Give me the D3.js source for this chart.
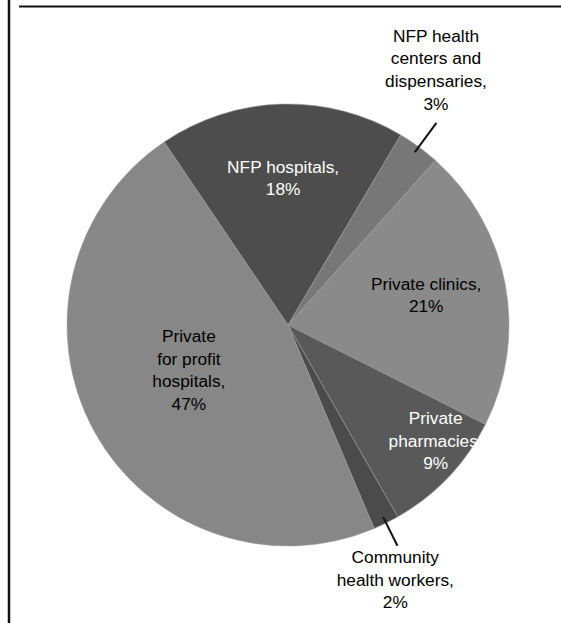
<!DOCTYPE html>
<html>
<head>
<meta charset="utf-8">
<script src="https://cdn.jsdelivr.net/npm/d3@7"></script>
<style>
  html, body { margin: 0; padding: 0; background: #fff; }
  svg { display: block; }
  text { font-family: "Liberation Sans", Arial, sans-serif; font-size: 17.3px; }
</style>
</head>
<body>
<script>
// ---- data ----
const categories = [
  ["NFP hospitals,", "18%"],
  ["NFP health", "centers and", "dispensaries,", "3%"],
  ["Private clinics,", "21%"],
  ["Private", "pharmacies,", "9%"],
  ["Community", "health workers,", "2%"],
  ["Private", "for profit", "hospitals,", "47%"]
];
const names = ["NFP hospitals", "NFP health centers and dispensaries", "Private clinics",
               "Private pharmacies", "Community health workers", "Private for profit hospitals"];
const shares = [18.0, 3.1, 20.8, 9.3, 1.9, 46.9];

// ---- style / layout (not data) ----
const W = 561, H = 623;
const cx = 288, cy = 325, R = 221;
const startDeg = -34.1;
const fills = ["#4d4d4d", "#777777", "#8a8a8a", "#595959", "#4b4b4b", "#878787"];
const textFill = ["#ffffff", "#000000", "#000000", "#ffffff", "#000000", "#000000"];
// label block centre: [angle offset from slice mid (deg), radius fraction]
const labelPolar = [[-0.2, 0.667], [-6.2, 1.336], [-1.6, 0.64], [-5.45, 0.848], [3.5, 1.25], [4.3, 0.492]];
const leader = [null, [0.97, 1.135], null, null, [0.97, 1.115], null];
const lineH = 22.6;

const svg = d3.select("body").append("svg").attr("width", W).attr("height", H);

// frame
svg.append("line").attr("x1", 9).attr("x2", 9).attr("y1", 0).attr("y2", H)
  .attr("stroke", "#111").attr("stroke-width", 2.5);
svg.append("line").attr("x1", 19).attr("x2", W).attr("y1", 6.5).attr("y2", 6.5)
  .attr("stroke", "#111").attr("stroke-width", 2.2);

const rad = d => d * Math.PI / 180;
const pie = d3.pie().sort(null).value(d => d)
  .startAngle(rad(startDeg)).endAngle(rad(startDeg) + 2 * Math.PI);
const arcs = pie(shares);
const arc = d3.arc().innerRadius(0).outerRadius(R);

const g = svg.append("g").attr("transform", `translate(${cx},${cy})`);

g.selectAll("path.slice").data(arcs).enter().append("path")
  .attr("class", "slice")
  .attr("d", arc)
  .attr("fill", (d, i) => fills[i])
  .attr("stroke", "#9a9a9a")
  .attr("stroke-width", 0.6)
  .append("title").text((d, i) => names[i]);

const polar = (a, r) => [r * Math.sin(a), -r * Math.cos(a)];

// leader lines
arcs.forEach((d, i) => {
  if (!leader[i]) return;
  const mid = (d.startAngle + d.endAngle) / 2;
  const p1 = polar(mid, leader[i][0] * R);
  const p2 = polar(mid, leader[i][1] * R);
  g.append("line").attr("x1", p1[0]).attr("y1", p1[1]).attr("x2", p2[0]).attr("y2", p2[1])
    .attr("stroke", "#111").attr("stroke-width", 2);
});

// labels
arcs.forEach((d, i) => {
  const mid = (d.startAngle + d.endAngle) / 2 + rad(labelPolar[i][0]);
  const p = polar(mid, labelPolar[i][1] * R);
  const lines = categories[i];
  const top = p[1] - (lines.length - 1) * lineH / 2;
  const t = g.append("text").attr("text-anchor", "middle").attr("fill", textFill[i]);
  lines.forEach((s, k) => {
    t.append("tspan").attr("x", p[0]).attr("y", top + k * lineH + 6.2).text(s);
  });
});
</script>
</body>
</html>
